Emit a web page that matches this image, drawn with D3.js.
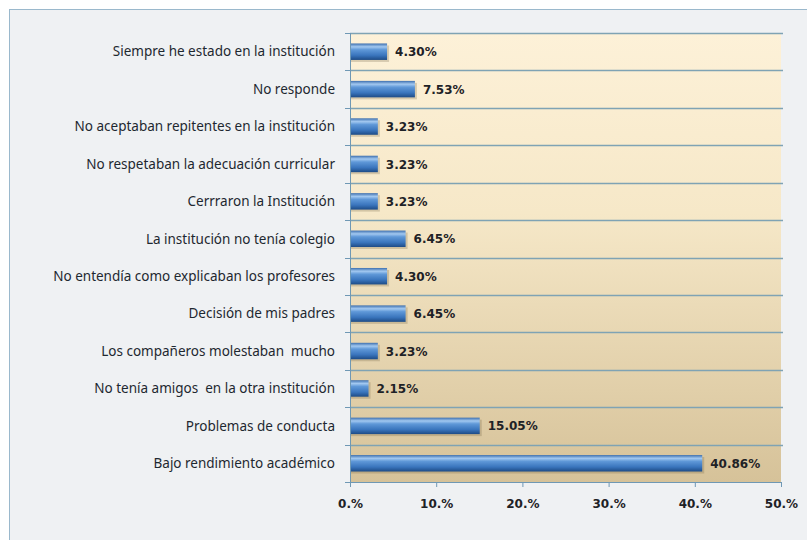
<!DOCTYPE html>
<html>
<head>
<meta charset="utf-8">
<script src="https://cdn.jsdelivr.net/npm/d3@7"></script>
<style>
  body { margin: 0; background: #ffffff; }
  .cat { font-family: "Noto Sans", "Open Sans", sans-serif; font-size: 13.5px; fill: #1e2830; }
  .val, .xlab { font-family: "DejaVu Sans", Verdana, sans-serif; font-size: 12px; font-weight: bold; fill: #1e2226; }
</style>
</head>
<body>
<div id="chart"></div>
<script>
  var categories = [
    "Siempre he estado en la institución",
    "No responde",
    "No aceptaban repitentes en la institución",
    "No respetaban la adecuación curricular",
    "Cerrraron la Institución",
    "La institución no tenía colegio",
    "No entendía como explicaban los profesores",
    "Decisión de mis padres",
    "Los compañeros molestaban  mucho",
    "No tenía amigos  en la otra institución",
    "Problemas de conducta",
    "Bajo rendimiento académico"
  ];
  var values = [4.30, 7.53, 3.23, 3.23, 3.23, 6.45, 4.30, 6.45, 3.23, 2.15, 15.05, 40.86];
  var xTicks = [0, 10, 20, 30, 40, 50];

  var W = 807, H = 540;
  var margin = {top: 33, right: 26, bottom: 58, left: 350};
  var width = W - margin.left - margin.right,
      height = H - margin.top - margin.bottom;

  var svg = d3.select("#chart").append("svg")
      .attr("width", W)
      .attr("height", H);

  var defs = svg.append("defs");
  var bg = defs.append("linearGradient").attr("id", "bgGrad")
      .attr("x1", 0).attr("y1", 0).attr("x2", 0).attr("y2", 1);
  bg.append("stop").attr("offset", "0%").attr("stop-color", "#fdf1d8");
  bg.append("stop").attr("offset", "40%").attr("stop-color", "#f6e8c8");
  bg.append("stop").attr("offset", "100%").attr("stop-color", "#d6c299");

  var bar = defs.append("linearGradient").attr("id", "barGrad")
      .attr("x1", 0).attr("y1", 0).attr("x2", 0).attr("y2", 1);
  bar.append("stop").attr("offset", "0%").attr("stop-color", "#3d6fae");
  bar.append("stop").attr("offset", "20%").attr("stop-color", "#a2c8f0");
  bar.append("stop").attr("offset", "38%").attr("stop-color", "#5f98d8");
  bar.append("stop").attr("offset", "72%").attr("stop-color", "#3a75bd");
  bar.append("stop").attr("offset", "100%").attr("stop-color", "#1d4b86");

  // outer chart area
  svg.append("rect")
      .attr("x", 9.5).attr("y", 9.5)
      .attr("width", W + 20).attr("height", H + 20)
      .attr("fill", "#eff1f3")
      .attr("stroke", "#9ab8cc");

  var g = svg.append("g")
      .attr("transform", "translate(" + margin.left + "," + margin.top + ")");

  var x = d3.scaleLinear().domain([0, 50]).range([0, width]);
  var y = d3.scaleBand().domain(categories).range([0, height]).paddingInner(0.56).paddingOuter(0.28);
  var yb = d3.scaleLinear().domain([0, categories.length]).range([0, height]);

  // plot background
  g.append("rect")
      .attr("x", 0).attr("y", 0)
      .attr("width", width).attr("height", height)
      .attr("fill", "url(#bgGrad)");

  // horizontal grid lines at category boundaries
  g.append("g").selectAll("line")
      .data(d3.range(categories.length))
      .enter().append("line")
      .attr("x1", 0).attr("x2", width + 2)
      .attr("y1", function(d) { return Math.round(yb(d)) + 0.5; })
      .attr("y2", function(d) { return Math.round(yb(d)) + 0.5; })
      .attr("stroke", "#7fa3b4")
      .attr("stroke-width", 1.5);

  // left axis with small ticks at boundaries
  g.append("line")
      .attr("x1", 0.5).attr("x2", 0.5)
      .attr("y1", 0).attr("y2", height + 4)
      .attr("stroke", "#6f98b4");
  g.append("g").selectAll("line")
      .data(d3.range(categories.length + 1))
      .enter().append("line")
      .attr("x1", -5).attr("x2", 0)
      .attr("y1", function(d) { return Math.round(yb(d)) + 0.5; })
      .attr("y2", function(d) { return Math.round(yb(d)) + 0.5; })
      .attr("stroke", "#6f98b4");

  // bottom axis
  var xAxis = d3.axisBottom(x)
      .tickValues(xTicks)
      .tickSize(5)
      .tickPadding(12)
      .tickFormat(function(d) { return d.toFixed(0) + ".%"; });
  var xa = g.append("g")
      .attr("transform", "translate(0," + height + ")")
      .call(xAxis);
  xa.select(".domain").attr("stroke", "#6f98b4");
  xa.selectAll(".tick line").attr("stroke", "#6f98b4");
  xa.selectAll(".tick text").attr("class", "xlab").attr("fill", null);

  // category labels
  g.append("g").selectAll("text")
      .data(categories)
      .enter().append("text")
      .attr("class", "cat")
      .attr("x", -15)
      .attr("y", function(d) { return y(d) + y.bandwidth() / 2; })
      .attr("dy", "0.35em")
      .attr("text-anchor", "end")
      .style("white-space", "pre")
      .text(function(d) { return d; });

  // bar shadows
  g.append("g").selectAll("rect")
      .data(values)
      .enter().append("rect")
      .attr("x", 1)
      .attr("y", function(d, i) { return y(categories[i]) + 2; })
      .attr("width", function(d) { return x(d) + 1; })
      .attr("height", y.bandwidth())
      .attr("fill", "#6b5a3a")
      .attr("opacity", 0.25);

  // bars
  g.append("g").selectAll("rect")
      .data(values)
      .enter().append("rect")
      .attr("x", 1)
      .attr("y", function(d, i) { return y(categories[i]); })
      .attr("width", function(d) { return x(d) - 1; })
      .attr("height", y.bandwidth())
      .attr("fill", "url(#barGrad)");

  // value labels
  g.append("g").selectAll("text")
      .data(values)
      .enter().append("text")
      .attr("class", "val")
      .attr("x", function(d) { return x(d) + 8; })
      .attr("y", function(d, i) { return y(categories[i]) + y.bandwidth() / 2; })
      .attr("dy", "0.38em")
      .text(function(d) { return d.toFixed(2) + "%"; });
</script>
</body>
</html>
